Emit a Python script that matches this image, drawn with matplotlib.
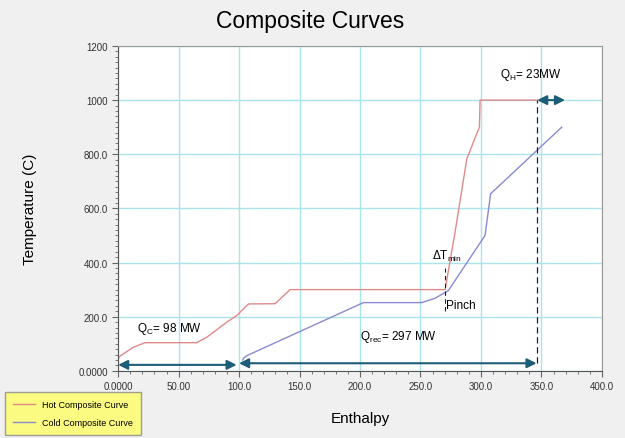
import matplotlib.pyplot as plt
from matplotlib.ticker import MultipleLocator

plt.rcParams['font.family'] = ['Liberation Sans', 'DejaVu Sans']
plt.rcParams['mathtext.default'] = 'regular'

# Composite curve data (enthalpy MW, temperature C)
hot_q = [0, 1.7, 12.6, 22.3, 65, 73.3, 89.9, 98, 107.8, 129.8, 142.2, 270.4, 278.6, 288.3, 298.7, 299.3, 346.5]
hot_t = [45, 55, 87, 104, 104, 124, 180, 204, 247, 248, 300, 300, 512, 783, 900, 1000, 1000]
cold_q = [103, 104, 106.4, 202.8, 251, 262, 273, 303.4, 308, 366.8]
cold_t = [40, 48, 56, 252, 252, 268, 296, 500, 654, 900]

x_ticks = [0, 50, 100, 150, 200, 250, 300, 350, 400]
x_labels = ['0.0000', '50.00', '100.0', '150.0', '200.0', '250.0', '300.0', '350.0', '400.0']
y_ticks = [0, 200, 400, 600, 800, 1000, 1200]
y_labels = ['0.0000', '200.0', '400.0', '600.0', '800.0', '1000', '1200']

# heat loads
q_c = 98
q_rec = 297
q_h = 23
pinch_q = 270.4
pinch_t = 300


def main():
    fig = plt.figure(figsize=(6.25, 4.39), dpi=100, facecolor='#f0f0f0')
    ax = fig.add_axes([0.189, 0.153, 0.774, 0.740])
    ax.set_facecolor('white')

    hot_c = '#e08a8a'
    cold_c = '#8a8ad0'
    arrow_c = '#1d5d78'

    ax.plot(hot_q, hot_t, color=hot_c, lw=1.0, label='Hot Composite Curve')
    ax.plot(cold_q, cold_t, color=cold_c, lw=1.0, label='Cold Composite Curve')

    ax.set_xlim(0, 400)
    ax.set_ylim(0, 1200)
    ax.set_xticks(x_ticks, x_labels, fontsize=7, color='#333333')
    ax.set_yticks(y_ticks, y_labels, fontsize=7, color='#333333')
    ax.xaxis.set_minor_locator(MultipleLocator(10))
    ax.yaxis.set_minor_locator(MultipleLocator(20))
    ax.tick_params(which='major', length=4, color='#666666')
    ax.tick_params(which='minor', length=2, color='#666666')
    ax.grid(True, which='major', color='#a8e4ea', lw=1.0)
    ax.set_axisbelow(True)
    for s in ax.spines.values():
        s.set_color('#999999')
    ax.spines['left'].set_color('#555555')
    ax.spines['bottom'].set_color('#555555')

    # heat load arrows
    arr = dict(arrowstyle='<|-|>', color=arrow_c, lw=1.5, mutation_scale=14, shrinkA=0, shrinkB=0)
    ax.annotate('', xy=(0, 22), xytext=(q_c, 22), arrowprops=arr)
    ax.annotate('', xy=(q_c + 2, 28), xytext=(q_c + 2 + q_rec - 51, 28), arrowprops=arr)
    ax.annotate('', xy=(346.5, 1000), xytext=(346.5 + q_h, 1000), arrowprops=arr)

    # dashed guide lines
    ax.plot([346.5, 346.5], [28, 1000], color='#222222', lw=0.9, ls=(0, (5, 3)))
    ax.plot([pinch_q, pinch_q], [220, 380], color='#222222', lw=0.8, ls=(0, (4, 3)))

    ax.text(pinch_q - 11, 425, r'$\Delta$T$_{min}$', fontsize=8.5, ha='left', va='center')
    ax.text(pinch_q + 1, 245, 'Pinch', fontsize=8.5, ha='left', va='center')
    ax.text(16, 160, 'Q$_C$= %d MW' % q_c, fontsize=8.5, ha='left', va='center')
    ax.text(200, 130, 'Q$_{rec}$= %d MW' % q_rec, fontsize=8.5, ha='left', va='center')
    ax.text(316, 1095, 'Q$_H$= %dMW' % q_h, fontsize=8.5, ha='left', va='center')

    fig.text(0.497, 0.952, 'Composite Curves', fontsize=16.5, ha='center', va='center')
    ax.set_xlabel('Enthalpy', fontsize=11, labelpad=14)
    ax.set_ylabel('Temperature (C)', fontsize=11, labelpad=30)

    leg = fig.legend(loc='lower left', bbox_to_anchor=(0.008, 0.007), fontsize=6.5,
                     frameon=True, fancybox=False, facecolor='#ffff66', edgecolor='#888888',
                     handlelength=2.4, borderpad=0.9, labelspacing=1.0, borderaxespad=0)
    leg.get_frame().set_linewidth(1.0)

    fig.savefig('out.png', dpi=100, facecolor=fig.get_facecolor())


if __name__ == '__main__':
    main()
